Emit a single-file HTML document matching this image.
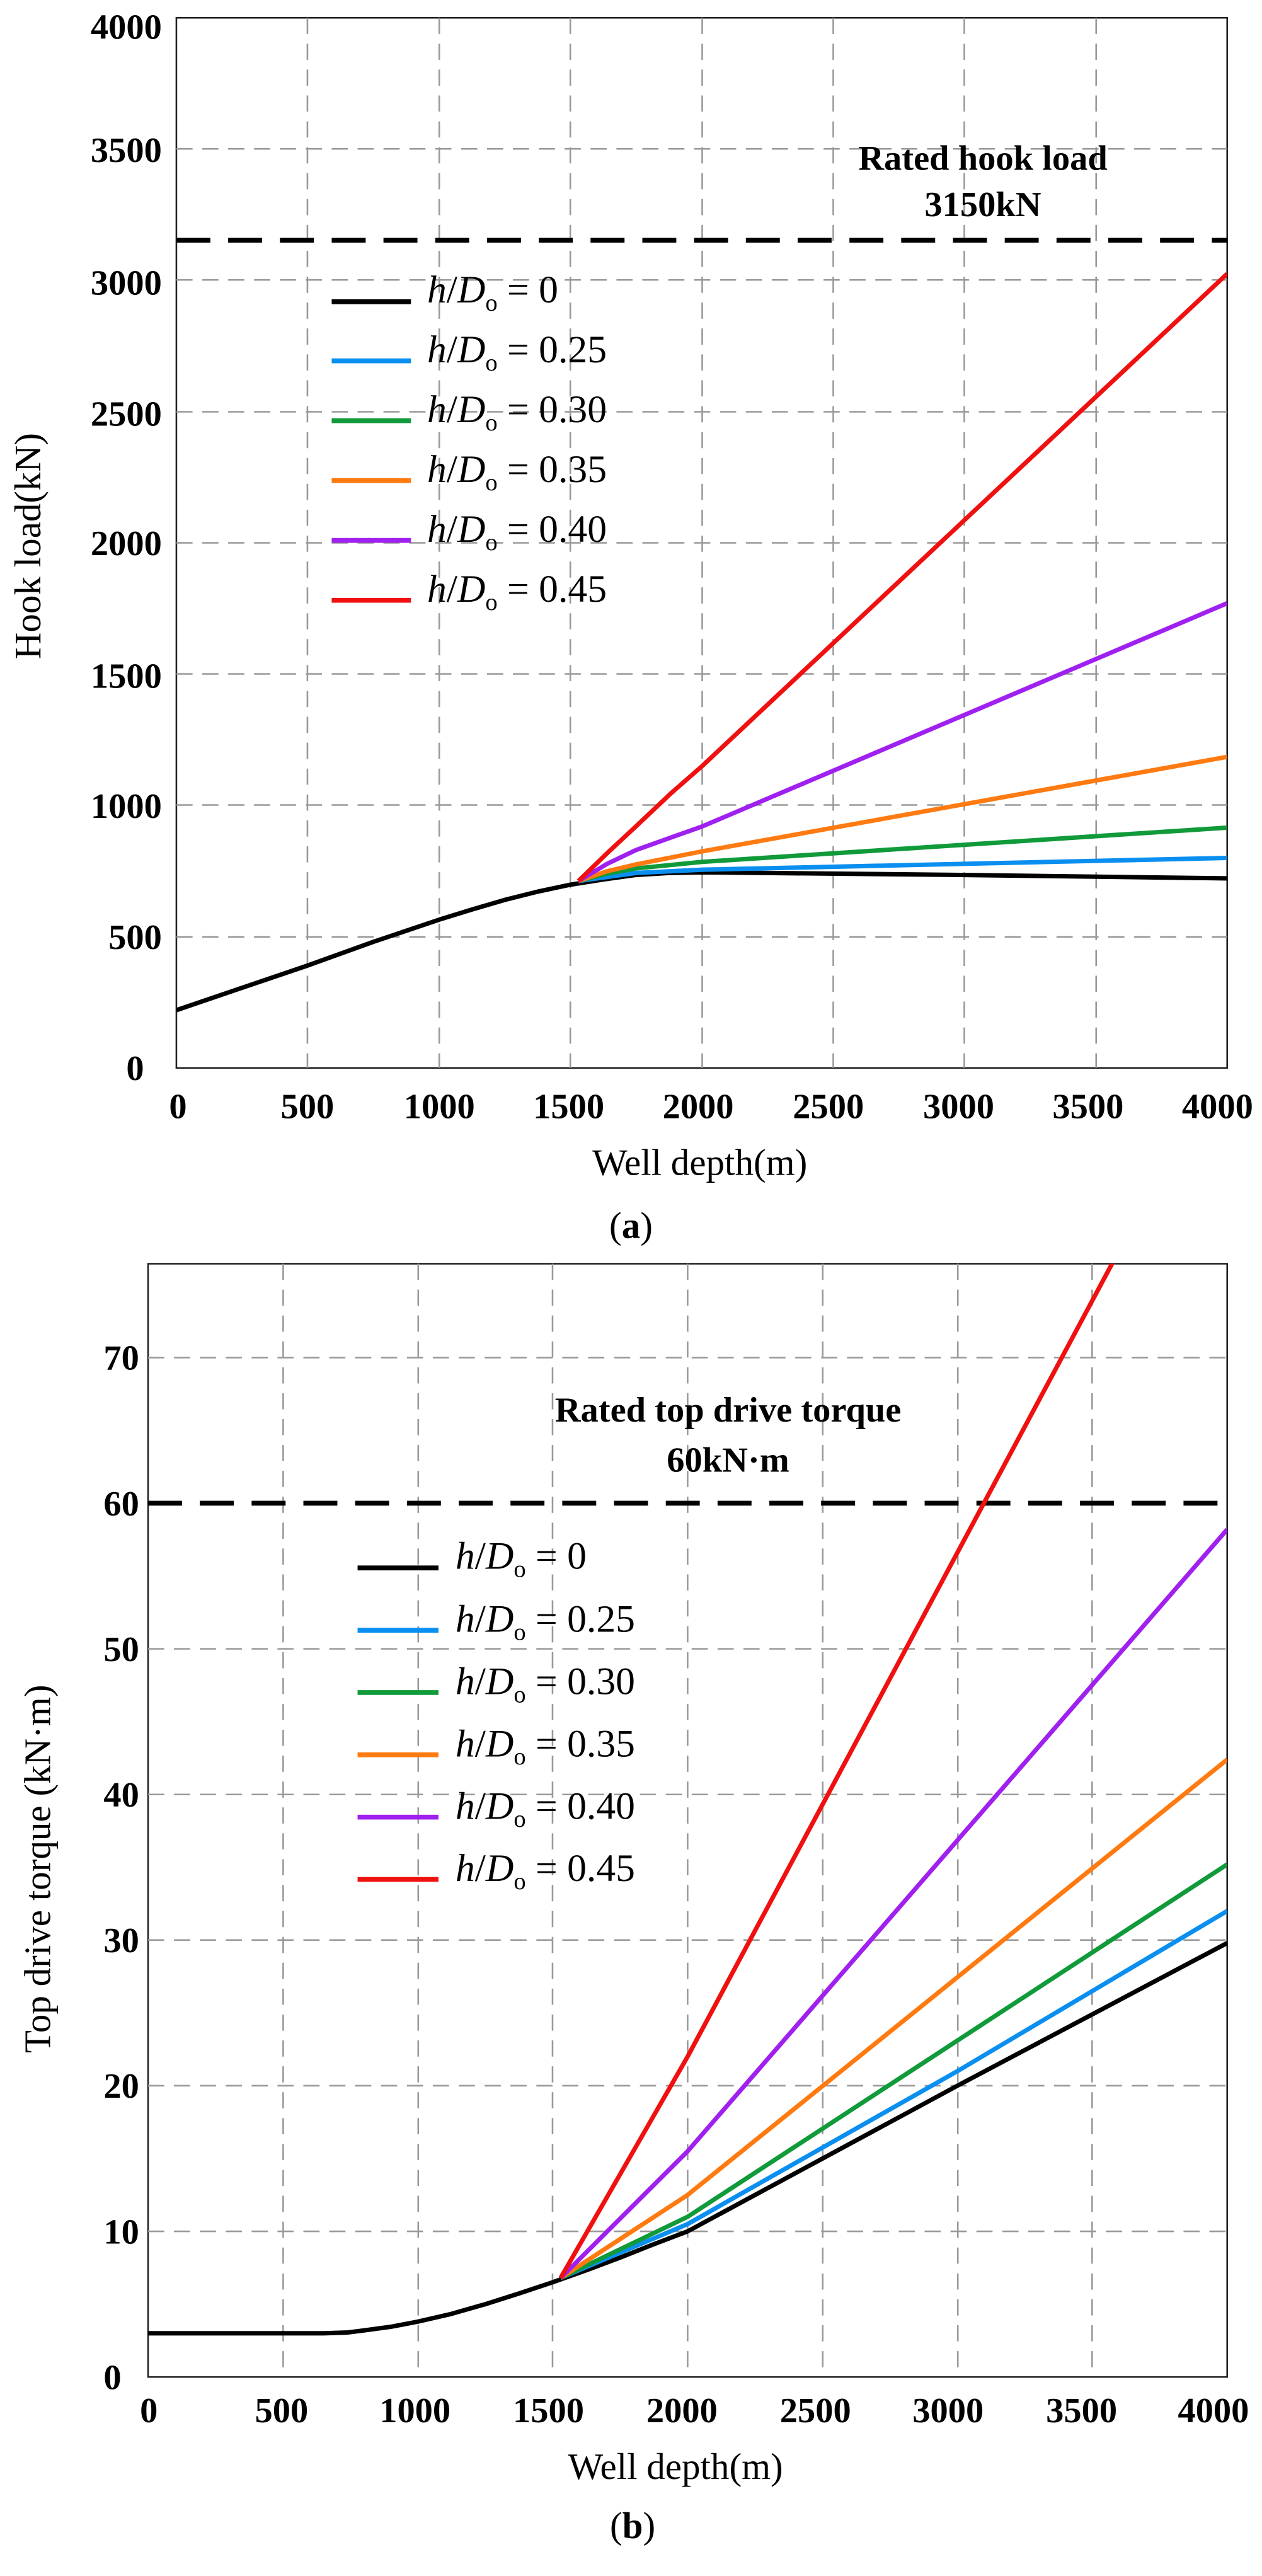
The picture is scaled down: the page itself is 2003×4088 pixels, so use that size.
<!DOCTYPE html>
<html><head><meta charset="utf-8"><style>html,body{margin:0;padding:0;background:#fff}svg{display:block}</style></head>
<body>
<svg width="2003" height="4088" viewBox="0 0 1560 3184" xmlns="http://www.w3.org/2000/svg" font-family="Liberation Serif, serif">
<defs>
<clipPath id="ca"><rect x="218" y="22" width="1299" height="1298"/></clipPath>
<clipPath id="cb"><rect x="183" y="-30" width="1334" height="1376"/></clipPath>
</defs>
<!-- Chart A -->
<g>
<rect x="218" y="22" width="1299" height="1298" fill="#fff" stroke="#222" stroke-width="2"/>
<g stroke="#999" stroke-width="2" stroke-dasharray="20,12" fill="none">
<path d="M380 22V1320M543 22V1320M705 22V1320M868 22V1320M1030 22V1320M1192 22V1320M1355 22V1320"/>
<path d="M218 184H1517M218 346H1517M218 509H1517M218 671H1517M218 833H1517M218 995H1517M218 1158H1517"/>
</g>
<path d="M218 297H1517" stroke="#000" stroke-width="6" stroke-dasharray="42,22"/>
<g fill="none" stroke-width="5.5" stroke-linejoin="round" clip-path="url(#ca)">
<polyline stroke="#000" points="218,1248.6 299,1221 380,1193.5 462,1164 543,1136.7 584,1124 624,1112.3 665,1102 705,1093.5 746,1087 786,1081.5 827,1079 868,1078.2 1192,1081.5 1517,1085.7"/>
<polyline stroke="#0a8ff0" points="715,1089 786,1079 868,1075 1517,1060.4"/>
<polyline stroke="#109a3a" points="715,1089 750,1080 786,1073.4 868,1065.3 1517,1023"/>
<polyline stroke="#ff7a10" points="715,1089 750,1077 786,1068.5 868,1052.3 1517,935.5"/>
<polyline stroke="#a020f0" points="715,1089 750,1068 786,1050.7 830,1035 868,1021.5 1517,745.6"/>
<polyline stroke="#f01010" points="715,1089 750,1055 786,1021.5 830,980 868,946.8 1517,338.4"/>
</g>
<g font-size="44" font-weight="bold" text-anchor="end">
<text x="200" y="48">4000</text><text x="200" y="200">3500</text><text x="200" y="364">3000</text>
<text x="200" y="526">2500</text><text x="200" y="686">2000</text><text x="200" y="850">1500</text>
<text x="200" y="1011">1000</text><text x="200" y="1173">500</text><text x="178" y="1335">0</text>
</g>
<g font-size="44" font-weight="bold" text-anchor="middle">
<text x="220" y="1382">0</text><text x="380" y="1382">500</text><text x="543" y="1382">1000</text><text x="703" y="1382">1500</text>
<text x="863" y="1382">2000</text><text x="1024" y="1382">2500</text><text x="1185" y="1382">3000</text><text x="1345" y="1382">3500</text><text x="1505" y="1382">4000</text>
</g>
<text x="865" y="1452" font-size="46" text-anchor="middle">Well depth(m)</text>
<text x="780" y="1530" font-size="46" text-anchor="middle">(<tspan font-weight="bold">a</tspan>)</text>
<text transform="translate(50,675) rotate(-90)" font-size="46" text-anchor="middle">Hook  load(kN)</text>
<g font-size="44" font-weight="bold" text-anchor="middle">
<text x="1215" y="210">Rated hook load</text><text x="1215" y="267">3150kN</text>
</g>
<g stroke-width="6">
<path d="M410 373H508" stroke="#000"/><path d="M410 446H508" stroke="#0a8ff0"/><path d="M410 520H508" stroke="#109a3a"/>
<path d="M410 594H508" stroke="#ff7a10"/><path d="M410 668H508" stroke="#a020f0"/><path d="M410 742H508" stroke="#f01010"/>
</g>
<g font-size="48">
<text x="528" y="374"><tspan font-style="italic">h</tspan>/<tspan font-style="italic">D</tspan><tspan font-size="30" dy="10">o</tspan><tspan dy="-10"> = 0</tspan></text>
<text x="528" y="448"><tspan font-style="italic">h</tspan>/<tspan font-style="italic">D</tspan><tspan font-size="30" dy="10">o</tspan><tspan dy="-10"> = 0.25</tspan></text>
<text x="528" y="522"><tspan font-style="italic">h</tspan>/<tspan font-style="italic">D</tspan><tspan font-size="30" dy="10">o</tspan><tspan dy="-10"> = 0.30</tspan></text>
<text x="528" y="596"><tspan font-style="italic">h</tspan>/<tspan font-style="italic">D</tspan><tspan font-size="30" dy="10">o</tspan><tspan dy="-10"> = 0.35</tspan></text>
<text x="528" y="670"><tspan font-style="italic">h</tspan>/<tspan font-style="italic">D</tspan><tspan font-size="30" dy="10">o</tspan><tspan dy="-10"> = 0.40</tspan></text>
<text x="528" y="744"><tspan font-style="italic">h</tspan>/<tspan font-style="italic">D</tspan><tspan font-size="30" dy="10">o</tspan><tspan dy="-10"> = 0.45</tspan></text>
</g>
</g>
<!-- Chart B -->
<g transform="translate(0,1592)">
<rect x="183" y="-30" width="1334" height="1376" fill="#fff" stroke="#222" stroke-width="2"/>
<g stroke="#999" stroke-width="2" stroke-dasharray="20,12" fill="none">
<path d="M350 -30V1346M517 -30V1346M683 -30V1346M850 -30V1346M1017 -30V1346M1184 -30V1346M1350 -30V1346"/>
<path d="M183 86H1517M183 446H1517M183 626H1517M183 806H1517M183 986H1517M183 1166H1517"/>
</g>
<path d="M183 266H1517" stroke="#000" stroke-width="6" stroke-dasharray="42,22"/>
<g fill="none" stroke-width="5.5" stroke-linejoin="round" clip-path="url(#cb)">
<polyline stroke="#000" points="183,1292 400,1292 430,1291 450,1288.4 483,1284 516.5,1277.6 558,1268 600,1256 641,1243 683,1229 725,1214 766.6,1198.4 808,1182 850,1166 1016.8,1076 1183.5,986 1517,809.6"/>
<polyline stroke="#0a8ff0" points="693,1223.6 850,1157 1183.5,968 1517,770"/>
<polyline stroke="#109a3a" points="693,1223.6 850,1148 1517,712.4"/>
<polyline stroke="#ff7a10" points="693,1223.6 850,1121 1517,582.8"/>
<polyline stroke="#a020f0" points="693,1223.6 850,1067 1517,298.4"/>
<polyline stroke="#f01010" points="693,1223.6 850,950 1380,-40"/>
</g>
<g font-size="44" font-weight="bold" text-anchor="end">
<text x="172" y="101">70</text><text x="172" y="281">60</text><text x="172" y="461">50</text><text x="172" y="641">40</text>
<text x="172" y="821">30</text><text x="172" y="1001">20</text><text x="172" y="1181">10</text><text x="150" y="1361">0</text>
</g>
<g font-size="44" font-weight="bold" text-anchor="middle">
<text x="184" y="1402">0</text><text x="348" y="1402">500</text><text x="513" y="1402">1000</text><text x="678" y="1402">1500</text>
<text x="843" y="1402">2000</text><text x="1008" y="1402">2500</text><text x="1172" y="1402">3000</text><text x="1337" y="1402">3500</text><text x="1500" y="1402">4000</text>
</g>
<text x="835" y="1472" font-size="46" text-anchor="middle">Well depth(m)</text>
<text x="782" y="1545" font-size="46" text-anchor="middle">(<tspan font-weight="bold">b</tspan>)</text>
<text transform="translate(62,718) rotate(-90)" font-size="46" text-anchor="middle">Top drive torque (kN·m)</text>
<g font-size="44" font-weight="bold" text-anchor="middle">
<text x="900" y="165">Rated top drive torque</text><text x="900" y="227">60kN·m</text>
</g>
<g stroke-width="6">
<path d="M442 346H542" stroke="#000"/><path d="M442 423H542" stroke="#0a8ff0"/><path d="M442 500H542" stroke="#109a3a"/>
<path d="M442 577H542" stroke="#ff7a10"/><path d="M442 654H542" stroke="#a020f0"/><path d="M442 731H542" stroke="#f01010"/>
</g>
<g font-size="48">
<text x="563" y="347"><tspan font-style="italic">h</tspan>/<tspan font-style="italic">D</tspan><tspan font-size="30" dy="10">o</tspan><tspan dy="-10"> = 0</tspan></text>
<text x="563" y="425"><tspan font-style="italic">h</tspan>/<tspan font-style="italic">D</tspan><tspan font-size="30" dy="10">o</tspan><tspan dy="-10"> = 0.25</tspan></text>
<text x="563" y="502"><tspan font-style="italic">h</tspan>/<tspan font-style="italic">D</tspan><tspan font-size="30" dy="10">o</tspan><tspan dy="-10"> = 0.30</tspan></text>
<text x="563" y="579"><tspan font-style="italic">h</tspan>/<tspan font-style="italic">D</tspan><tspan font-size="30" dy="10">o</tspan><tspan dy="-10"> = 0.35</tspan></text>
<text x="563" y="656"><tspan font-style="italic">h</tspan>/<tspan font-style="italic">D</tspan><tspan font-size="30" dy="10">o</tspan><tspan dy="-10"> = 0.40</tspan></text>
<text x="563" y="733"><tspan font-style="italic">h</tspan>/<tspan font-style="italic">D</tspan><tspan font-size="30" dy="10">o</tspan><tspan dy="-10"> = 0.45</tspan></text>
</g>
</g>
</svg>
</body></html>
